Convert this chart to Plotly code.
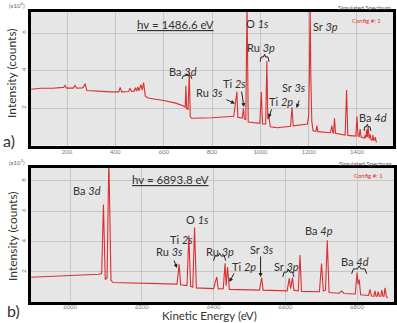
import plotly.graph_objects as go

# ---------------- data ----------------
# panel a: hv = 1486.6 eV  (kinetic energy eV, intensity x10^4 counts)
energy_a = [51, 90, 140, 180, 186, 192, 198, 226, 233, 240, 262, 268, 275, 282, 330, 380,
            414, 420, 426, 455, 461, 467, 478, 483, 488, 493, 498, 506, 511, 517, 524, 540,
            600, 650, 680, 689, 692, 695, 701, 706, 710, 715, 800, 890, 903, 907, 925, 930,
            934, 940, 945, 950, 998, 1004, 1009, 1022, 1027, 1031, 1036, 1041, 1070, 1100,
            1125, 1131, 1136, 1195, 1200, 1203, 1206, 1209, 1213, 1218, 1230, 1234, 1238,
            1290, 1296, 1300, 1303, 1307, 1311, 1351, 1357, 1362, 1395, 1400, 1404, 1409,
            1413, 1417, 1430, 1434, 1437, 1440, 1443, 1446, 1450, 1454, 1458, 1463, 1466,
            1469, 1473, 1476, 1480]
counts_a = [3.0, 3.05, 3.05, 3.07, 3.1, 3.2, 3.06, 3.06, 3.2, 3.06, 3.07, 3.12, 3.3, 2.93,
            2.88, 2.86, 2.86, 3.1, 2.86, 2.88, 3.05, 2.88, 2.9, 3.08, 2.9, 3.12, 2.92, 3.25,
            2.95, 3.35, 2.62, 2.52, 2.4, 2.26, 2.12, 2.05, 3.19, 1.98, 1.92, 3.9, 1.55, 1.45,
            1.48, 1.56, 2.87, 1.5, 1.46, 1.98, 1.42, 1.38, 7.6, 1.25, 1.18, 2.85, 1.15, 1.15,
            4.5, 1.4, 1.52, 1.0, 0.95, 0.98, 1.03, 2.04, 1.05, 1.15, 1.6, 3.85, 7.6, 3.65,
            1.3, 0.78, 0.75, 1.06, 0.74, 0.68, 1.06, 0.67, 0.67, 1.45, 0.65, 0.56, 2.96, 0.54,
            0.5, 1.55, 0.5, 0.48, 0.88, 0.45, 0.4, 0.55, 0.4, 0.85, 0.45, 1.0, 0.38, 0.6,
            0.3, 0.3, 0.55, 0.28, 0.3, 0.45, 0.15]

# panel b: hv = 6893.8 eV
energy_b = [5891, 6000, 6080, 6088, 6093, 6098, 6103, 6108, 6114, 6120, 6200, 6298, 6304,
            6308, 6326, 6331, 6336, 6342, 6347, 6352, 6400, 6409, 6413, 6427, 6432, 6435,
            6439, 6444, 6528, 6534, 6538, 6605, 6611, 6615, 6620, 6624, 6636, 6641, 6645,
            6695, 6701, 6706, 6712, 6717, 6722, 6750, 6757, 6764, 6795, 6800, 6803, 6806,
            6810, 6832, 6836, 6840, 6847, 6850, 6853, 6856, 6859, 6862, 6866, 6869, 6872,
            6875, 6878, 6882, 6886]
counts_b = [1.65, 1.75, 1.85, 1.9, 6.45, 1.5, 1.6, 9.5, 1.45, 1.3, 1.25, 1.2, 2.5, 1.15,
            1.1, 4.4, 1.05, 1.0, 4.93, 0.95, 0.9, 1.67, 0.88, 0.9, 2.57, 1.1, 2.33, 0.85,
            0.8, 1.63, 0.8, 0.75, 1.58, 0.9, 1.63, 0.8, 0.75, 3.12, 0.72, 0.7, 2.55, 0.75,
            0.8, 4.09, 0.65, 0.6, 0.75, 0.58, 0.55, 1.96, 1.2, 1.5, 0.5, 0.45, 0.85, 0.42,
            0.4, 0.75, 0.4, 0.4, 0.7, 0.4, 0.4, 0.8, 0.4, 0.4, 0.95, 0.35, 0.3]

xticks_a = [200, 400, 600, 800, 1000, 1200, 1400]
xticks_b = [6000, 6200, 6400, 6600, 6800]
yticks_a = [2, 4, 6]
yticks_b = [2, 4, 6, 8]

# peak labels: (text, energy, intensity)
labels_a = [("Ba <i>3d</i>", 678, 3.97), ("Ru <i>3s</i>", 788, 2.85), ("Ti <i>2s</i>", 895, 3.33),
            ("O <i>1s</i>", 988, 6.48), ("Ru <i>3p</i>", 1001, 5.2), ("Ti <i>2p</i>", 1086, 2.37),
            ("Sr <i>3s</i>", 1139, 3.12), ("Sr <i>3p</i>", 1268, 6.32), ("Ba <i>4d</i>", 1466, 1.52)]
labels_b = [("Ba <i>3d</i>", 6047, 7.34), ("Ru <i>3s</i>", 6276, 3.32), ("Ti <i>2s</i>", 6310, 4.11),
            ("O <i>1s</i>", 6355, 5.43), ("Ru <i>3p</i>", 6418, 3.38), ("Ti <i>2p</i>", 6485, 2.33),
            ("Sr <i>3s</i>", 6535, 3.45), ("Sr <i>3p</i>", 6604, 2.33), ("Ba <i>4p</i>", 6694, 4.7),
            ("Ba <i>4d</i>", 6793, 2.66)]
# arrows: (head energy, head intensity, ax px, ay px)
arrows_a = [(895, 2.24, -10, -4.5), (932, 2.05, -2.5, -17), (1034, 1.47, 3.5, -10), (1150, 2.0, 3, -9)]
arrows_b = [(6298, 2.26, -3.5, -9), (6444, 1.34, 5.5, -10), (6531, 1.67, 0, -22)]
# braces: (e0, e1, ytop, ybottom)
braces_a = [(676, 717, 3.72, 3.55), (999, 1036, 4.72, 4.47), (1429, 1457, 1.0, 0.78)]
braces_b = [(6400, 6434, 3.05, 2.74), (6593, 6624, 1.99, 1.68), (6785, 6827, 2.2, 1.88)]

W, H = 397, 323
FONT = "Lato"
TXT = "#333333"
RED = "#dd2f2f"


def P(px, py):
    return px / W, 1 - py / H


fig = go.Figure()
fig.add_trace(go.Scatter(x=energy_a, y=counts_a, mode="lines", xaxis="x", yaxis="y",
                         line=dict(color=RED, width=1.1), showlegend=False, hoverinfo="skip"))
fig.add_trace(go.Scatter(x=energy_b, y=counts_b, mode="lines", xaxis="x2", yaxis="y2",
                         line=dict(color=RED, width=1.1), showlegend=False, hoverinfo="skip"))

ax_common = dict(showline=True, mirror=True, linewidth=3, linecolor="black",
                 showgrid=True, gridcolor="#c6c6c6", gridwidth=1, zeroline=False,
                 ticks="", tickfont=dict(family=FONT, size=6, color="#777777"))

fig.update_layout(
    width=W, height=H, autosize=False,
    margin=dict(l=0, r=0, t=0, b=0),
    paper_bgcolor="white", plot_bgcolor="#e6e6e6",
    xaxis=dict(domain=[31 / W, 393 / W], range=[51, 1549], tickvals=xticks_a, anchor="y",
               ticklabelstandoff=-2, **ax_common),
    yaxis=dict(domain=[1 - 145.5 / H, 1 - 12 / H], range=[0, 7.12], tickvals=yticks_a,
               tickangle=-90, anchor="x", **ax_common),
    xaxis2=dict(domain=[31 / W, 394 / W], range=[5891, 6903], tickvals=xticks_b, anchor="y2",
                ticklabelstandoff=-4, **ax_common),
    yaxis2=dict(domain=[1 - 302.3 / H, 1 - 168 / H], range=[0, 8.85], tickvals=yticks_b,
                tickangle=-90, anchor="x2", **ax_common),
)

ann = []
shapes = []


def paper_text(text, px, py, size, color=TXT, xanchor="center", angle=0, yanchor="middle"):
    x, y = P(px, py)
    ann.append(dict(text=text, x=x, y=y, xref="paper", yref="paper", showarrow=False,
                    xanchor=xanchor, yanchor=yanchor, textangle=angle,
                    font=dict(family=FONT, size=size, color=color)))


for (labels, arrows, braces, xr, yr) in [(labels_a, arrows_a, braces_a, "x", "y"),
                                          (labels_b, arrows_b, braces_b, "x2", "y2")]:
    for t, e, v in labels:
        ann.append(dict(text=t, x=e, y=v, xref=xr, yref=yr, showarrow=False,
                        font=dict(family=FONT, size=11, color=TXT)))
    for e, v, dx, dy in arrows:
        ann.append(dict(text="", x=e, y=v, xref=xr, yref=yr, showarrow=True, ax=dx, ay=dy,
                        arrowhead=2, arrowsize=0.8, arrowwidth=1, arrowcolor="#222222"))
    for e0, e1, yt, yb in braces:
        em = (e0 + e1) / 2
        d = (e1 - e0) * 0.12
        ym = yt + (yt - yb) * 0.6
        path = (f"M {e0},{yb} L {e0 + d},{yt} L {em - d},{yt} L {em},{ym} "
                f"L {em + d},{yt} L {e1 - d},{yt} L {e1},{yb}")
        shapes.append(dict(type="path", path=path, xref=xr, yref=yr,
                           line=dict(color="#222222", width=1)))

# photon energy labels
ann.append(dict(text="<u>hv = 1486.6 eV</u>", x=651, y=6.45, xref="x", yref="y", showarrow=False,
                font=dict(family=FONT, size=11.5, color=TXT)))
ann.append(dict(text="<u>hv = 6893.8 eV</u>", x=6281, y=8.06, xref="x2", yref="y2", showarrow=False,
                font=dict(family=FONT, size=11.5, color=TXT)))

# static texts
paper_text("(x10<sup>4</sup>)", 17, 5, 6, color="#666666")
paper_text("(x10<sup>3</sup>)", 17, 162, 6, color="#666666")
paper_text("Simulated Spectrum", 393, 7, 6, color="#555555", xanchor="right")
paper_text("Simulated Spectrum", 394, 163.5, 6, color="#555555", xanchor="right")
paper_text("Config #: 1", 383, 20, 6, color="#e03030", xanchor="right")
paper_text("Config #: 1", 385, 175, 6, color="#e03030", xanchor="right")
paper_text("Intensity (counts)", 12, 73, 12, angle=-90)
paper_text("Intensity (counts)", 12, 236, 12, angle=-90)
paper_text("a)", 9, 140, 16)
paper_text("b)", 13, 310, 16)
paper_text("Kinetic Energy (eV)", 209, 324, 11.5, yanchor="bottom")

fig.update_layout(annotations=ann, shapes=shapes)
fig.write_html("out.html")
